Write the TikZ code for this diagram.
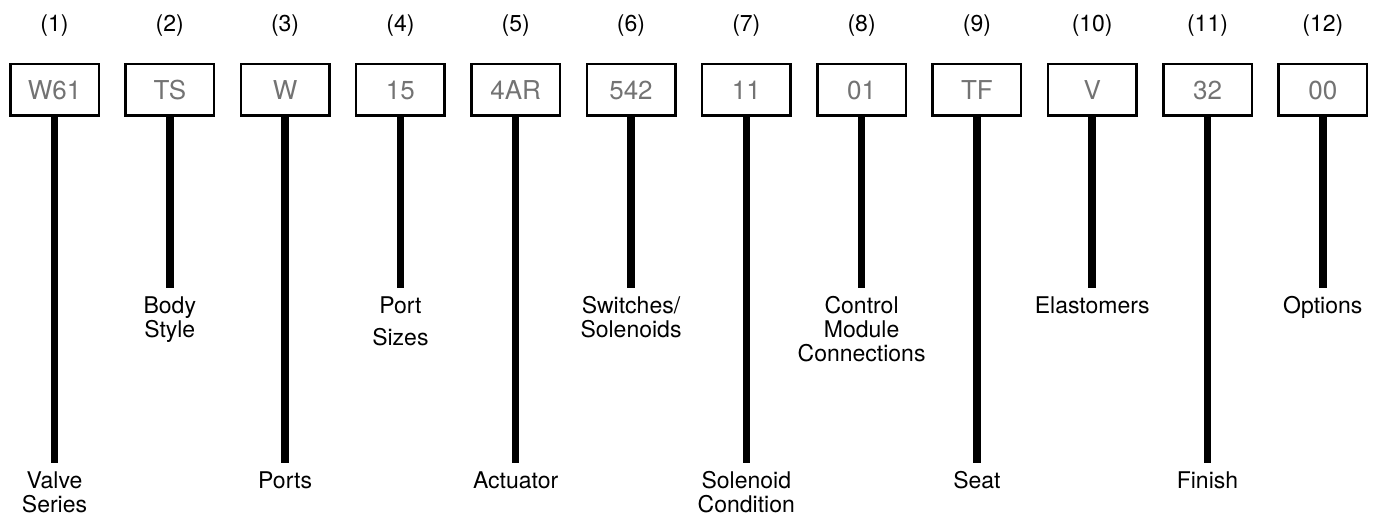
\documentclass[tikz,border=0pt]{standalone}
\usepackage{fontspec}
\setmainfont{TeX Gyre Heros}
\usepackage{xcolor}

\begin{document}
\begin{tikzpicture}[x=0.5pt,y=-0.5pt]
    \tikzstyle{NumStyle}=[font=\fontsize{11.5}{12}\selectfont, text=black]
    \tikzstyle{CodeStyle}=[draw, line width=1.25pt, minimum width=44.25pt, minimum height=25.75pt,
                     inner sep=0pt, font=\fontsize{13}{15}\selectfont, text=black!55]
    \tikzstyle{LabelStyle}=[anchor=north, align=center, inner sep=4pt, font=\fontsize{11.5}{12}\selectfont]
    \tikzstyle{StemStyle}=[line width=3.75pt]
   \useasboundingbox (0,0) rectangle (1377,517);
   % position numbers
   \node[NumStyle] (n1) at (54.5,26) {(1)};
   \node[NumStyle] (n2) at (169.8,26) {(2)};
   \node[NumStyle] (n3) at (285.1,26) {(3)};
   \node[NumStyle] (n4) at (400.4,26) {(4)};
   \node[NumStyle] (n5) at (515.7,26) {(5)};
   \node[NumStyle] (n6) at (631.0,26) {(6)};
   \node[NumStyle] (n7) at (746.3,26) {(7)};
   \node[NumStyle] (n8) at (861.6,26) {(8)};
   \node[NumStyle] (n9) at (976.9,26) {(9)};
   \node[NumStyle] (n10) at (1092.2,26) {(10)};
   \node[NumStyle] (n11) at (1207.5,26) {(11)};
   \node[NumStyle] (n12) at (1322.8,26) {(12)};
   % code boxes
   \node[CodeStyle] (b1) at (54.5,90) {W61};
   \node[CodeStyle] (b2) at (169.8,90) {TS};
   \node[CodeStyle] (b3) at (285.1,90) {W};
   \node[CodeStyle] (b4) at (400.4,90) {15};
   \node[CodeStyle] (b5) at (515.7,90) {4AR};
   \node[CodeStyle] (b6) at (631.0,90) {542};
   \node[CodeStyle] (b7) at (746.3,90) {11};
   \node[CodeStyle] (b8) at (861.6,90) {01};
   \node[CodeStyle] (b9) at (976.9,90) {TF};
   \node[CodeStyle] (b10) at (1092.2,90) {V};
   \node[CodeStyle] (b11) at (1207.5,90) {32};
   \node[CodeStyle] (b12) at (1322.8,90) {00};
   % descriptions
   \node[LabelStyle] (l1) at (54.5,463) {Valve\\Series};
   \node[LabelStyle] (l2) at (169.8,288) {Body\\Style};
   \node[LabelStyle] (l3) at (285.1,463) {Ports};
   \node[LabelStyle] (l4) at (400.4,288) {Port\\[4pt]Sizes};
   \node[LabelStyle] (l5) at (515.7,463) {Actuator};
   \node[LabelStyle] (l6) at (631.0,288) {Switches/\\Solenoids};
   \node[LabelStyle] (l7) at (746.3,463) {Solenoid\\Condition};
   \node[LabelStyle] (l8) at (861.6,288) {Control\\Module\\Connections};
   \node[LabelStyle] (l9) at (976.9,463) {Seat};
   \node[LabelStyle] (l10) at (1092.2,288) {Elastomers};
   \node[LabelStyle] (l11) at (1207.5,463) {Finish};
   \node[LabelStyle] (l12) at (1322.8,288) {Options};
   % stems
   \draw[StemStyle] (b1.south) -- (l1.north);
   \draw[StemStyle] (b2.south) -- (l2.north);
   \draw[StemStyle] (b3.south) -- (l3.north);
   \draw[StemStyle] (b4.south) -- (l4.north);
   \draw[StemStyle] (b5.south) -- (l5.north);
   \draw[StemStyle] (b6.south) -- (l6.north);
   \draw[StemStyle] (b7.south) -- (l7.north);
   \draw[StemStyle] (b8.south) -- (l8.north);
   \draw[StemStyle] (b9.south) -- (l9.north);
   \draw[StemStyle] (b10.south) -- (l10.north);
   \draw[StemStyle] (b11.south) -- (l11.north);
   \draw[StemStyle] (b12.south) -- (l12.north);
\end{tikzpicture}
\end{document}
